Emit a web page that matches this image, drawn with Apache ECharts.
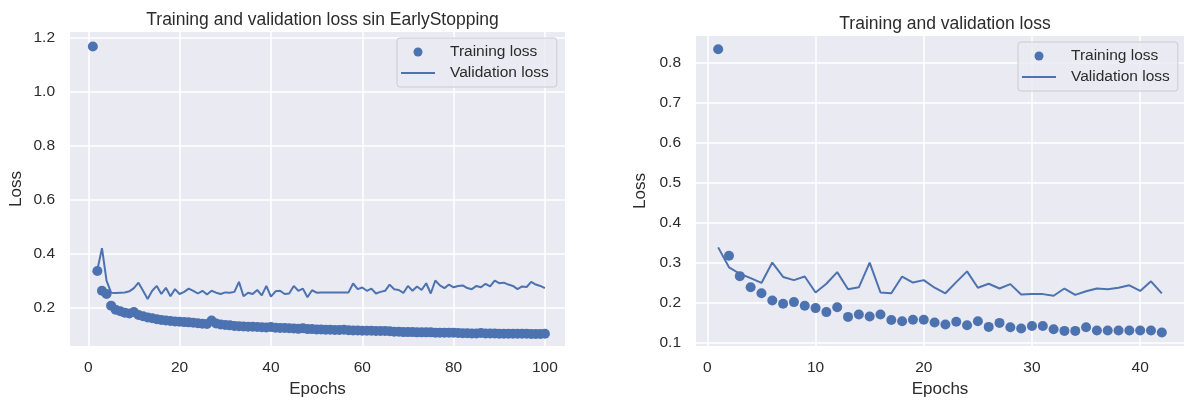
<!DOCTYPE html>
<html>
<head>
<meta charset="utf-8">
<script src="https://cdn.jsdelivr.net/npm/echarts@6/dist/echarts.min.js"></script>
<style>
  html, body { margin: 0; padding: 0; background: #ffffff; }
  #chart { width: 1184px; height: 403px; }
</style>
</head>
<body>
<div id="chart"></div>
<script>
// Run without early stopping: 100 epochs
const trainLossNoES = [
  1.167, 0.335, 0.262, 0.250, 0.207, 0.192, 0.186, 0.181, 0.178, 0.183,
  0.172, 0.168, 0.163, 0.160, 0.157, 0.154, 0.152, 0.150, 0.148, 0.147,
  0.146, 0.145, 0.144, 0.142, 0.140, 0.139, 0.152, 0.141, 0.137, 0.135,
  0.134, 0.132, 0.131, 0.130, 0.129, 0.129, 0.128, 0.127, 0.126, 0.128,
  0.125, 0.124, 0.124, 0.123, 0.122, 0.121, 0.123, 0.120, 0.120, 0.119,
  0.119, 0.118, 0.118, 0.117, 0.117, 0.118, 0.116, 0.115, 0.115, 0.114,
  0.114, 0.114, 0.113, 0.113, 0.113, 0.112, 0.110, 0.110, 0.109, 0.109,
  0.109, 0.108, 0.108, 0.108, 0.108, 0.107, 0.107, 0.107, 0.107, 0.107,
  0.106, 0.105, 0.105, 0.104, 0.104, 0.106, 0.104, 0.104, 0.104, 0.103,
  0.103, 0.103, 0.103, 0.103, 0.103, 0.103, 0.102, 0.102, 0.102, 0.103
];
const valLossNoES = [
  0.330, 0.340, 0.420, 0.300, 0.255, 0.254, 0.255, 0.256, 0.260, 0.272,
  0.292, 0.262, 0.232, 0.262, 0.280, 0.250, 0.273, 0.242, 0.268, 0.250,
  0.258, 0.270, 0.262, 0.252, 0.262, 0.248, 0.262, 0.255, 0.250, 0.256,
  0.255, 0.258, 0.295, 0.242, 0.255, 0.250, 0.265, 0.245, 0.280, 0.240,
  0.260, 0.262, 0.250, 0.252, 0.280, 0.262, 0.270, 0.238, 0.264, 0.255,
  0.256, 0.256, 0.256, 0.256, 0.256, 0.256, 0.256, 0.289, 0.268, 0.274,
  0.262, 0.270, 0.252, 0.258, 0.262, 0.285, 0.268, 0.265, 0.254, 0.280,
  0.262, 0.278, 0.265, 0.290, 0.252, 0.300, 0.282, 0.272, 0.285, 0.275,
  0.280, 0.282, 0.272, 0.268, 0.280, 0.275, 0.288, 0.278, 0.300, 0.290,
  0.292, 0.285, 0.280, 0.268, 0.278, 0.276, 0.295, 0.285, 0.280, 0.272
];

// Run with early stopping: 42 epochs
const trainLossES = [
  0.834, 0.317, 0.266, 0.238, 0.223, 0.205, 0.197, 0.201, 0.192, 0.186,
  0.176, 0.188, 0.164, 0.170, 0.165, 0.170, 0.156, 0.153, 0.157, 0.157,
  0.150, 0.145, 0.152, 0.143, 0.153, 0.139, 0.149, 0.138, 0.135, 0.141,
  0.141, 0.133, 0.129, 0.129, 0.138, 0.130, 0.130, 0.130, 0.130, 0.130,
  0.130, 0.125
];
const valLossES = [
  0.338, 0.288, 0.272, 0.261, 0.249, 0.300, 0.264, 0.256, 0.265, 0.225,
  0.247, 0.276, 0.233, 0.238, 0.300, 0.225, 0.223, 0.265, 0.250, 0.256,
  0.237, 0.223, 0.251, 0.278, 0.237, 0.247, 0.235, 0.246, 0.220, 0.221,
  0.221, 0.217, 0.235, 0.219, 0.228, 0.235, 0.233, 0.237, 0.243, 0.229,
  0.253, 0.223
];

// Tick labels
const xTicksNoES = [0, 20, 40, 60, 80, 100];
const yTicksNoES = [0.2, 0.4, 0.6, 0.8, 1.0, 1.2];
const xTicksES = [0, 10, 20, 30, 40];
const yTicksES = [0.1, 0.2, 0.3, 0.4, 0.5, 0.6, 0.7, 0.8];

const FONT = '"Liberation Sans", Arial, Helvetica, sans-serif';
const TEXT = '#2b2b2b';
const BLUE = '#4C72B0';

function pairs(values) {
  return values.map((v, i) => [i + 1, v]);
}

function axis(opts) {
  return {
    type: 'value',
    gridIndex: opts.grid,
    min: opts.min,
    max: opts.max,
    name: opts.name,
    nameLocation: 'middle',
    nameGap: opts.nameGap,
    nameTextStyle: { fontFamily: FONT, fontSize: 17, color: TEXT },
    axisLine: { show: false },
    axisTick: { show: false, customValues: opts.ticks },
    axisLabel: {
      customValues: opts.ticks,
      margin: opts.margin,
      fontFamily: FONT,
      fontSize: 15.5,
      color: TEXT,
      formatter: v => opts.digits ? v.toFixed(opts.digits) : String(v)
    },
    splitLine: { show: true, lineStyle: { color: '#ffffff', width: 1.5 } }
  };
}

function legend(left, top) {
  return {
    orient: 'vertical',
    left: left,
    top: top,
    data: [
      { name: 'Training loss', icon: 'circle' },
      // plain line handle, no marker in the middle
      { name: 'Validation loss', itemStyle: { color: 'rgba(0,0,0,0)', borderWidth: 0, opacity: 0 } }
    ],
    padding: [6, 8, 6, 3],
    itemGap: 5,
    itemWidth: 34,
    itemHeight: 9,
    backgroundColor: 'rgba(234,234,242,0.8)',
    borderColor: '#cccccc',
    borderWidth: 1,
    borderRadius: 3,
    selectedMode: false,
    textStyle: { fontFamily: FONT, fontSize: 15.5, color: TEXT, padding: [0, 0, 0, 10] }
  };
}

const chart = echarts.init(document.getElementById('chart'), null, { renderer: 'canvas' });

chart.setOption({
  animation: false,
  backgroundColor: '#ffffff',
  title: [
    {
      text: 'Training and validation loss sin EarlyStopping',
      left: 317.5, top: 6, textAlign: 'center',
      textStyle: { fontFamily: FONT, fontSize: 17.5, fontWeight: 'normal', color: TEXT }
    },
    {
      text: 'Training and validation loss',
      left: 940, top: 10, textAlign: 'center',
      textStyle: { fontFamily: FONT, fontSize: 17.5, fontWeight: 'normal', color: TEXT }
    }
  ],
  legend: [legend(397, 38), legend(1018, 42)],
  grid: [
    { left: 70, top: 32, width: 495, height: 320, show: true, backgroundColor: '#EAEAF2', borderWidth: 0 },
    { left: 696, top: 36, width: 488, height: 316, show: true, backgroundColor: '#EAEAF2', borderWidth: 0 }
  ],
  xAxis: [
    axis({ grid: 0, min: -4.0, max: 104.4, ticks: xTicksNoES, name: 'Epochs', nameGap: 34, margin: 14, digits: 0 }),
    axis({ grid: 1, min: -1.05, max: 44.05, ticks: xTicksES, name: 'Epochs', nameGap: 34, margin: 14, digits: 0 })
  ],
  yAxis: [
    axis({ grid: 0, min: 0.0571, max: 1.2207, ticks: yTicksNoES, name: 'Loss', nameGap: 45, margin: 15, digits: 1 }),
    axis({ grid: 1, min: 0.0909, max: 0.867, ticks: yTicksES, name: 'Loss', nameGap: 47, margin: 15, digits: 1 })
  ],
  series: [
    {
      name: 'Training loss', type: 'scatter', xAxisIndex: 0, yAxisIndex: 0,
      data: pairs(trainLossNoES), symbol: 'circle', symbolSize: 10,
      itemStyle: { color: BLUE, opacity: 1 }, silent: true
    },
    {
      name: 'Validation loss', type: 'line', xAxisIndex: 0, yAxisIndex: 0,
      data: pairs(valLossNoES), symbol: 'none',
      lineStyle: { color: BLUE, width: 2 }, itemStyle: { color: BLUE }, silent: true
    },
    {
      name: 'Training loss', type: 'scatter', xAxisIndex: 1, yAxisIndex: 1,
      data: pairs(trainLossES), symbol: 'circle', symbolSize: 10,
      itemStyle: { color: BLUE, opacity: 1 }, silent: true
    },
    {
      name: 'Validation loss', type: 'line', xAxisIndex: 1, yAxisIndex: 1,
      data: pairs(valLossES), symbol: 'none',
      lineStyle: { color: BLUE, width: 2 }, itemStyle: { color: BLUE }, silent: true
    }
  ]
});
</script>
</body>
</html>
